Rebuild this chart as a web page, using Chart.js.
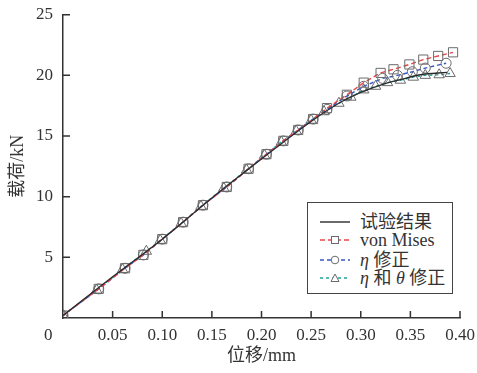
<!DOCTYPE html>
<html>
<head>
<meta charset="utf-8">
<script src="https://cdn.jsdelivr.net/npm/chart.js@4/dist/chart.umd.min.js"></script>
<style>
  html, body { margin: 0; padding: 0; background: #fff; }
  #wrap { position: relative; width: 477px; height: 373px; }
  #origin { position: absolute; left: 44px; top: 325px; font: 17px "Liberation Serif", "Noto Sans CJK SC", serif; color: #333; }
  #legend { position: absolute; left: 307px; top: 202px; width: 146px; height: 92px; border: 1px solid #444; background: #fff; box-sizing: border-box;
            font: 18px "Liberation Serif", "Noto Sans CJK SC", serif; color: #333; }
  .row { position: absolute; left: 0; height: 18px; display: flex; align-items: center; white-space: nowrap; }
  .row svg { margin-left: 12px; margin-right: 10px; }
  .row span.t { line-height: 18px; }
  i { font-family: "Liberation Serif", serif; }
</style>
</head>
<body>
<div id="wrap">
  <canvas id="c" width="477" height="373"></canvas>
  <div id="origin">0</div>
  <div id="legend"></div>
</div>
<script>
// ---- data (displacement in mm, load in kN) ----
const expX = [0, 0.05, 0.10, 0.15, 0.20, 0.25, 0.28, 0.30, 0.32, 0.34, 0.36, 0.387];
const expY = [0.2, 3.4, 6.5, 9.9, 13.1, 16.2, 17.8, 18.6, 19.2, 19.65, 20.05, 20.25];

const misesX = [0, 0.036, 0.0625, 0.081, 0.100, 0.121, 0.141, 0.165, 0.187, 0.205, 0.222, 0.237, 0.252, 0.266, 0.286, 0.303, 0.320, 0.333, 0.349, 0.363, 0.378, 0.393];
const misesY = [0.2, 2.4, 4.1, 5.2, 6.5, 7.9, 9.3, 10.8, 12.3, 13.5, 14.6, 15.5, 16.4, 17.3, 18.4, 19.4, 20.2, 20.5, 20.9, 21.3, 21.6, 21.9];

const etaX = [0, 0.036, 0.0625, 0.081, 0.100, 0.121, 0.141, 0.165, 0.187, 0.205, 0.222, 0.237, 0.252, 0.266, 0.286, 0.303, 0.322, 0.337, 0.352, 0.365, 0.386];
const etaY = [0.2, 2.4, 4.1, 5.2, 6.5, 7.9, 9.3, 10.8, 12.3, 13.5, 14.6, 15.5, 16.4, 17.2, 18.3, 19.1, 19.75, 20.0, 20.3, 20.6, 21.0];

const etaThetaX = [0, 0.034, 0.060, 0.084, 0.098, 0.119, 0.139, 0.162, 0.185, 0.203, 0.220, 0.235, 0.250, 0.263, 0.278, 0.290, 0.303, 0.315, 0.327, 0.340, 0.353, 0.365, 0.379, 0.390];
const etaThetaY = [0.2, 2.3, 4.0, 5.5, 6.4, 7.8, 9.2, 10.7, 12.2, 13.4, 14.5, 15.4, 16.3, 17.0, 17.7, 18.2, 18.8, 19.1, 19.4, 19.6, 19.85, 20.0, 20.05, 20.15];

const xTicks = [0, 0.05, 0.10, 0.15, 0.20, 0.25, 0.30, 0.35, 0.40];
const yTicks = [0, 5, 10, 15, 20, 25];
const seriesNames = ['试验结果', 'von Mises', 'η 修正', 'η 和 θ 修正'];

const toPts = (xs, ys) => xs.map((x, i) => ({ x: x, y: ys[i] }));

const COL_EXP = '#2b2b2b', COL_RED = '#e5474b', COL_BLUE = '#3457c4', COL_TEAL = '#25a39c', COL_MK = '#6b6b6b';
const NOFILL = 'rgba(255,255,255,0)';

const tickPlugin = {
  id: 'inTicks',
  afterDraw(chart) {
    const ctx = chart.ctx, xs = chart.scales.x, ys = chart.scales.y;
    ctx.save();
    ctx.strokeStyle = '#333';
    ctx.lineWidth = 1.5;
    ctx.beginPath();
    yTicks.forEach(v => {
      if (v === 0) return;
      const p = ys.getPixelForValue(v);
      ctx.moveTo(xs.left, p); ctx.lineTo(xs.left + 7, p);
    });
    xTicks.forEach(v => {
      if (v === 0) return;
      const p = xs.getPixelForValue(v);
      ctx.moveTo(p, ys.bottom); ctx.lineTo(p, ys.bottom - 7);
    });
    ctx.stroke();
    ctx.restore();
  }
};

const serif = '"Liberation Serif", "Noto Sans CJK SC", serif';

const chart = new Chart(document.getElementById('c'), {
  type: 'line',
  data: {
    datasets: [
      { label: seriesNames[0], data: toPts(expX, expY), borderColor: COL_EXP, borderWidth: 1.3,
        pointRadius: 0, cubicInterpolationMode: 'monotone', fill: false },
      { label: seriesNames[1], data: toPts(misesX, misesY), borderColor: COL_RED, borderWidth: 1.4, borderDash: [5, 3],
        pointStyle: 'rect', pointRadius: 6.5, pointBorderColor: COL_MK, pointBackgroundColor: NOFILL, pointBorderWidth: 1, tension: 0 },
      { label: seriesNames[2], data: toPts(etaX, etaY), borderColor: COL_BLUE, borderWidth: 1.4, borderDash: [4, 3],
        pointStyle: 'circle', pointRadius: 5, pointBorderColor: COL_MK, pointBackgroundColor: NOFILL, pointBorderWidth: 1, tension: 0 },
      { label: seriesNames[3], data: toPts(etaThetaX, etaThetaY), borderColor: COL_TEAL, borderWidth: 1.4, borderDash: [3, 3],
        pointStyle: 'triangle', pointRadius: 6, pointBorderColor: COL_MK, pointBackgroundColor: NOFILL, pointBorderWidth: 1, tension: 0 }
    ]
  },
  options: {
    responsive: false,
    animation: false,
    devicePixelRatio: 1,
    layout: { padding: { left: 0, right: 17, top: 14.7, bottom: 0 } },
    plugins: { legend: { display: false }, tooltip: { enabled: false } },
    scales: {
      x: {
        type: 'linear', min: 0, max: 0.40,
        afterBuildTicks: s => { s.ticks = xTicks.map(v => ({ value: v })); },
        afterFit: s => { s.height = 55; s.paddingLeft = 0; s.paddingRight = 0; },
        grid: { display: true, drawOnChartArea: false, drawTicks: false, color: 'rgba(0,0,0,0)' },
        border: { display: true, color: '#333', width: 1.5 },
        ticks: { color: '#333', padding: 7, maxRotation: 0, autoSkip: false,
                 font: { family: serif, size: 17 },
                 callback: v => (v === 0 ? '' : Number(v).toFixed(2)) },
        title: { display: true, text: '位移/mm', color: '#333', padding: 6, font: { family: serif, size: 18 } }
      },
      y: {
        type: 'linear', min: 0, max: 25,
        afterBuildTicks: s => { s.ticks = yTicks.map(v => ({ value: v })); },
        afterFit: s => { s.width = 63; s.paddingTop = 0; s.paddingBottom = 0; },
        grid: { display: true, drawOnChartArea: false, drawTicks: false, color: 'rgba(0,0,0,0)' },
        border: { display: true, color: '#333', width: 1.5 },
        ticks: { color: '#333', padding: 10, autoSkip: false,
                 font: { family: serif, size: 17 },
                 callback: v => (v === 0 ? '' : String(v)) },
        title: { display: true, text: '载荷/kN', color: '#333', padding: 7, font: { family: serif, size: 18 } }
      }
    }
  },
  plugins: [tickPlugin]
});

// ---- HTML legend built from the datasets ----
const legend = document.getElementById('legend');
const rowTops = [10, 28, 48, 66];
const labelsHtml = ['试验结果', 'von Mises', '<i>η</i> 修正', '<i>η</i> 和 <i>θ</i> 修正'];
chart.data.datasets.forEach((ds, i) => {
  const dash = ds.borderDash ? ds.borderDash.join(',') : '';
  let mk = '';
  const mc = COL_MK;
  if (ds.pointStyle === 'rect') mk = `<rect x="11.5" y="5.5" width="7" height="7" fill="#fff" stroke="${mc}" stroke-width="1"/>`;
  else if (ds.pointStyle === 'circle') mk = `<circle cx="15" cy="9" r="3.8" fill="#fff" stroke="${mc}" stroke-width="1"/>`;
  else if (ds.pointStyle === 'triangle') mk = `<polygon points="15,5 19,12.5 11,12.5" fill="#fff" stroke="${mc}" stroke-width="1"/>`;
  const row = document.createElement('div');
  row.className = 'row';
  row.style.top = rowTops[i] + 'px';
  row.innerHTML = `<svg width="30" height="18"><line x1="0" y1="9" x2="30" y2="9" stroke="${ds.borderColor}" stroke-width="1.4" ${dash ? `stroke-dasharray="${dash}"` : ''}/>${mk}</svg><span class="t">${labelsHtml[i]}</span>`;
  legend.appendChild(row);
});
</script>
</body>
</html>
